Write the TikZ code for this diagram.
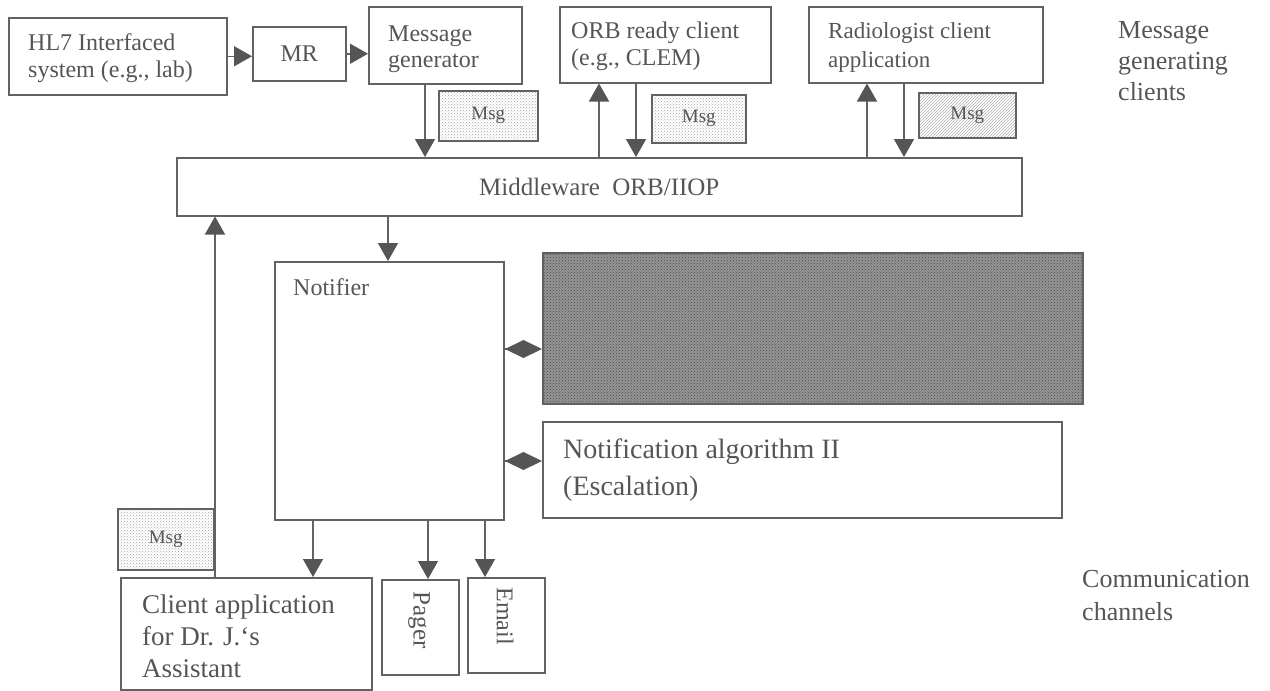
\documentclass[tikz,border=0pt]{standalone}
\usepackage{fontspec}
\setmainfont{Liberation Serif}
\usetikzlibrary{arrows.meta,patterns}
\definecolor{ln}{HTML}{626262}
\definecolor{tx}{HTML}{555555}
\definecolor{tipc}{HTML}{555555}
\begin{document}
\begin{tikzpicture}[x=1pt,y=-1pt,
  box/.style={draw=ln, line width=1.5pt, inner sep=0pt, anchor=north west, text=tx},
  txt/.style={text=tx, inner sep=0pt, align=left, anchor=base west},
  fa/.style={font=\fontsize{24}{27}\selectfont},
  fmsg/.style={font=\fontsize{19}{22}\selectfont},
  msgdots/.style={box, pattern=crosshatch dots, pattern color=black!35, fmsg},
  msglines/.style={box, pattern=north east lines, pattern color=black!30, fmsg},
  conn/.style={draw=ln, line width=1.5pt, -{Triangle[length=18pt,width=20pt,color=tipc]}},
  dia/.style={draw=ln, line width=1.5pt, -{Diamond[length=37pt,width=18pt,color=tipc]}}
]
\useasboundingbox (0,0) rectangle (1270,691);

% top row boxes
\node[box, minimum width=218pt, minimum height=77pt] (hl7) at (8,17) {};
\node[txt, fa] (hl7t) at (28,77) {HL7 Interfaced\\system (e.g., lab)};
\node[box, fa, minimum width=93pt, minimum height=54pt] (mr) at (252,26) {MR};
\node[box, minimum width=153pt, minimum height=77pt] (gen) at (368,6) {};
\node[txt, font=\fontsize{24}{26}\selectfont] (gent) at (388,67) {Message\\generator};
\node[msgdots, minimum width=99pt, minimum height=50pt] (msg1) at (438,90) {Msg};
\node[box, minimum width=211pt, minimum height=76pt] (orb) at (559,6) {};
\node[txt, fa] (orbt) at (571,65) {ORB ready client\\(e.g., CLEM)};
\node[msgdots, minimum width=94pt, minimum height=48pt] (msg2) at (651,94) {Msg};
\node[box, minimum width=234pt, minimum height=76pt] (rad) at (808,6) {};
\node[txt, font=\fontsize{23}{29}\selectfont] (radt) at (828,67) {Radiologist client\\application};
\node[msglines, minimum width=97pt, minimum height=45pt] (msg3) at (918,92) {Msg};
\node[txt, font=\fontsize{26}{31}\selectfont] (mgc) at (1118,100) {Message\\generating\\clients};

% middleware
\node[box, font=\fontsize{25}{28}\selectfont, minimum width=845pt, minimum height=58pt] (mw) at (176,157) {Middleware\ \ ORB/IIOP};

% notifier and algorithms
\node[box, minimum width=229pt, minimum height=258pt] (notifier) at (274,261) {};
\node[txt, fa] (notifiert) at (293,295) {Notifier};
\node[box, fill=black!42, postaction={pattern=crosshatch dots, pattern color=black!70}, minimum width=540pt, minimum height=151pt] (shaded) at (542,252) {};
\node[box, minimum width=519pt, minimum height=96pt] (alg) at (542,421) {};
\node[txt, font=\fontsize{28}{37}\selectfont] (algt) at (563,495) {Notification algorithm II\\(Escalation)};

% bottom
\node[msgdots, minimum width=96pt, minimum height=61pt] (msg4) at (117,508) {Msg};
\node[box, minimum width=251pt, minimum height=112pt] (client) at (120,577) {};
\node[txt, font=\fontsize{27}{32}\selectfont] (clientt) at (142,677) {Client application\\for Dr. J.‘s\\Assistant};
\node[box, minimum width=77pt, minimum height=95pt] (pager) at (381,579) {};
\node[text=tx, inner sep=0pt, rotate=-90, font=\fontsize{25}{28}\selectfont] (pagert) at (419,620) {Pager};
\node[box, minimum width=77pt, minimum height=95pt] (email) at (467,577) {};
\node[text=tx, inner sep=0pt, rotate=-90, font=\fontsize{24}{28}\selectfont] (emailt) at (505,616) {Email};
\node[txt, font=\fontsize{26}{33}\selectfont] (cc) at (1082,620) {Communication\\channels};

% connectors
\draw[conn] (hl7.east) -- (hl7.east -| mr.west);
\draw[conn] (mr.east) -- (mr.east -| gen.west);
\coordinate (g1) at ([xshift=57pt]gen.south west);
\draw[conn] (g1) -- (g1 |- mw.north);
\coordinate (o1) at ([xshift=40pt]orb.south west);
\draw[conn] (o1 |- mw.north) -- (o1);
\coordinate (o2) at ([xshift=77pt]orb.south west);
\draw[conn] (o2) -- (o2 |- mw.north);
\coordinate (r1) at ([xshift=59pt]rad.south west);
\draw[conn] (r1 |- mw.north) -- (r1);
\coordinate (r2) at ([xshift=96pt]rad.south west);
\draw[conn] (r2) -- (r2 |- mw.north);
\coordinate (m1) at ([xshift=114pt]notifier.north west);
\draw[conn] (m1 |- mw.south) -- (m1);
\coordinate (c1) at ([xshift=95pt]client.north west);
\draw[conn] (c1) -- (c1 |- mw.south);
\coordinate (n1) at ([xshift=39pt]notifier.south west);
\draw[conn] (n1) -- (n1 |- client.north);
\coordinate (n2) at ([xshift=154pt]notifier.south west);
\draw[conn] (n2) -- (n2 |- pager.north);
\coordinate (n3) at ([xshift=211pt]notifier.south west);
\draw[conn] (n3) -- (n3 |- email.north);
\coordinate (d1) at ([yshift=-88pt]notifier.north east);
\draw[dia] (d1) -- (d1 -| shaded.west);
\coordinate (d2) at ([yshift=-200pt]notifier.north east);
\draw[dia] (d2) -- (d2 -| alg.west);
\end{tikzpicture}
\end{document}
